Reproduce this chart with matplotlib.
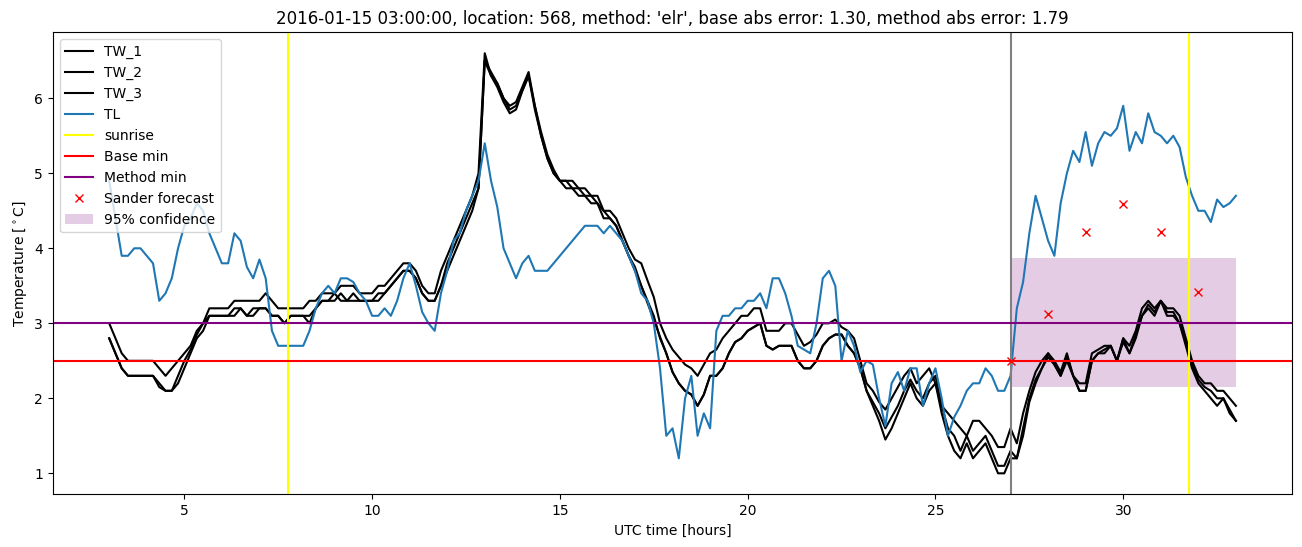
import numpy as np
import matplotlib
matplotlib.use('Agg')
import matplotlib.pyplot as plt

# time axis: 10-minute steps from 03:00 to 33:00 UTC (hours since start of day)
hours = np.arange(181) / 6 + 3

TW_1 = [
    3.0, 2.8, 2.6, 2.5, 2.5, 2.5, 2.5, 2.5, 2.4, 2.3, 2.4, 2.5, 2.6, 2.7, 2.9, 3.0, 3.2, 3.2, 3.2, 3.2, 3.3, 3.3, 3.3, 3.3, 3.3, 3.4, 3.3, 3.2, 3.2, 3.2, 3.2,
    3.2, 3.3, 3.3, 3.4, 3.4, 3.4, 3.5, 3.5, 3.5, 3.4, 3.4, 3.4, 3.5, 3.5, 3.6, 3.7, 3.8, 3.8, 3.7, 3.5, 3.4, 3.4, 3.7, 3.9, 4.1, 4.3, 4.5, 4.7, 5.0, 6.6,
    6.3, 6.2, 6.0, 5.9, 5.95, 6.15, 6.35, 5.9, 5.55, 5.25, 5.05, 4.9, 4.9, 4.9, 4.8, 4.8, 4.7, 4.7, 4.5, 4.5, 4.4, 4.2, 4.0, 3.85, 3.8, 3.57, 3.35, 3.0, 2.8, 2.65, 2.55,
    2.45, 2.4, 2.3, 2.45, 2.6, 2.65, 2.8, 2.9, 3.0, 3.1, 3.1, 3.2, 3.2, 2.9, 2.9, 2.9, 3.0, 3.0, 2.85, 2.7, 2.75, 2.85, 3.0, 3.0, 3.05, 2.95, 2.9, 2.8, 2.5, 2.2,
    2.1, 1.95, 1.85, 2.0, 2.15, 2.3, 2.4, 2.2, 2.3, 2.4, 2.2, 1.9, 1.8, 1.7, 1.6, 1.5, 1.7, 1.7, 1.6, 1.5, 1.35, 1.35, 1.6,
    1.4, 1.8, 2.1, 2.35, 2.5, 2.6, 2.5, 2.35, 2.6, 2.3, 2.2, 2.2, 2.6, 2.65, 2.7, 2.7, 2.5, 2.8, 2.7, 2.9, 3.2, 3.3, 3.2, 3.3, 3.2, 3.2, 3.1, 2.8, 2.5, 2.3, 2.2, 2.2, 2.1, 2.1, 2.0, 1.9,
]
TW_2 = [
    2.8, 2.6, 2.4, 2.3, 2.3, 2.3, 2.3, 2.3, 2.2, 2.1, 2.1, 2.3, 2.5, 2.65, 2.85, 3.0, 3.1, 3.1, 3.1, 3.1, 3.1, 3.2, 3.1, 3.1, 3.2, 3.2, 3.1, 3.1, 3.0, 3.1, 3.1,
    3.1, 3.0, 3.2, 3.3, 3.3, 3.3, 3.4, 3.3, 3.3, 3.3, 3.3, 3.3, 3.4, 3.4, 3.5, 3.6, 3.7, 3.7, 3.6, 3.4, 3.3, 3.3, 3.5, 3.8, 4.0, 4.2, 4.4, 4.6, 4.8, 6.5,
    6.3, 6.15, 5.95, 5.8, 5.85, 6.1, 6.3, 5.85, 5.5, 5.2, 5.0, 4.9, 4.8, 4.8, 4.7, 4.7, 4.6, 4.6, 4.4, 4.4, 4.3, 4.1, 3.9, 3.75, 3.5, 3.27, 3.05, 2.82, 2.6, 2.35, 2.2,
    2.1, 2.05, 1.9, 2.05, 2.3, 2.3, 2.4, 2.6, 2.75, 2.8, 2.9, 2.95, 3.0, 2.7, 2.65, 2.7, 2.7, 2.7, 2.5, 2.4, 2.4, 2.5, 2.7, 2.8, 2.85, 2.85, 2.7, 2.6, 2.4, 2.1,
    1.95, 1.8, 1.6, 1.75, 1.9, 2.1, 2.25, 2.1, 2.0, 2.2, 2.3, 1.9, 1.6, 1.5, 1.3, 1.5, 1.3, 1.4, 1.5, 1.3, 1.1, 1.1, 1.3,
    1.2, 1.6, 2.0, 2.25, 2.4, 2.6, 2.45, 2.3, 2.55, 2.3, 2.1, 2.1, 2.5, 2.6, 2.6, 2.7, 2.5, 2.8, 2.6, 2.8, 3.1, 3.2, 3.1, 3.3, 3.1, 3.1, 3.0, 2.7, 2.4, 2.2, 2.1, 2.0, 1.9, 2.0, 1.8, 1.7,
]
TW_3 = [
    2.8, 2.6, 2.4, 2.3, 2.3, 2.3, 2.3, 2.3, 2.15, 2.1, 2.1, 2.2, 2.4, 2.6, 2.8, 2.9, 3.1, 3.1, 3.1, 3.1, 3.2, 3.2, 3.1, 3.2, 3.2, 3.2, 3.1, 3.1, 3.0, 3.1, 3.1,
    3.1, 3.1, 3.2, 3.3, 3.3, 3.4, 3.3, 3.3, 3.4, 3.3, 3.3, 3.3, 3.3, 3.4, 3.5, 3.6, 3.7, 3.7, 3.6, 3.4, 3.3, 3.3, 3.5, 3.7, 3.9, 4.1, 4.3, 4.5, 4.8, 6.5,
    6.35, 6.2, 6.0, 5.85, 5.9, 6.1, 6.3, 5.9, 5.5, 5.2, 5.0, 4.9, 4.9, 4.8, 4.8, 4.7, 4.7, 4.6, 4.5, 4.4, 4.3, 4.1, 3.9, 3.7, 3.5, 3.3, 3.1, 2.8, 2.6, 2.35, 2.2,
    2.1, 2.05, 1.9, 2.05, 2.3, 2.3, 2.4, 2.6, 2.75, 2.8, 2.9, 2.95, 3.0, 2.7, 2.65, 2.7, 2.7, 2.7, 2.5, 2.4, 2.4, 2.5, 2.7, 2.8, 2.85, 2.85, 2.7, 2.6, 2.4, 2.1,
    1.9, 1.7, 1.45, 1.6, 1.8, 2.0, 2.2, 2.0, 1.9, 2.1, 2.2, 1.8, 1.5, 1.3, 1.2, 1.4, 1.2, 1.3, 1.4, 1.2, 1.0, 1.0, 1.2,
    1.2, 1.5, 1.95, 2.2, 2.4, 2.55, 2.45, 2.3, 2.5, 2.3, 2.1, 2.1, 2.5, 2.6, 2.65, 2.7, 2.5, 2.75, 2.6, 2.85, 3.1, 3.25, 3.15, 3.3, 3.15, 3.15, 3.0, 2.75, 2.45, 2.25, 2.15, 2.1, 2.0, 2.0, 1.85, 1.7,
]
TL = [
    4.9, 4.4, 3.9, 3.9, 4.0, 4.0, 3.9, 3.8, 3.3, 3.4, 3.6, 4.0, 4.3, 4.4, 4.6, 4.5, 4.2, 4.0, 3.8, 3.8, 4.2, 4.1, 3.75, 3.6, 3.85, 3.6, 2.9, 2.7, 2.7, 2.7, 2.7,
    2.7, 2.9, 3.2, 3.4, 3.5, 3.4, 3.6, 3.6, 3.55, 3.4, 3.3, 3.1, 3.1, 3.2, 3.1, 3.3, 3.6, 3.8, 3.5, 3.15, 3.0, 2.9, 3.4, 3.7, 4.1, 4.2, 4.5, 4.7, 4.9, 5.4,
    4.9, 4.55, 4.0, 3.8, 3.6, 3.8, 3.9, 3.7, 3.7, 3.7, 3.8, 3.9, 4.0, 4.1, 4.2, 4.3, 4.3, 4.3, 4.2, 4.3, 4.2, 4.1, 3.9, 3.7, 3.4, 3.3, 3.0, 2.4, 1.5, 1.6, 1.2,
    2.0, 2.3, 1.5, 1.8, 1.6, 2.9, 3.1, 3.1, 3.2, 3.2, 3.3, 3.3, 3.4, 3.2, 3.6, 3.6, 3.4, 3.1, 2.7, 2.65, 2.6, 3.0, 3.6, 3.7, 3.5, 2.5, 2.9, 2.7, 2.35, 2.5,
    2.45, 2.0, 1.63, 2.2, 2.35, 2.1, 2.4, 2.4, 1.9, 2.2, 2.4, 2.0, 1.5, 1.75, 1.9, 2.1, 2.2, 2.2, 2.4, 2.3, 2.1, 2.1, 2.3,
    3.2, 3.55, 4.2, 4.7, 4.4,
    4.1, 3.9, 4.6, 5.0, 5.3, 5.15, 5.55, 5.1, 5.4, 5.55, 5.5, 5.6, 5.9, 5.3, 5.55, 5.4, 5.8, 5.55, 5.5, 5.4, 5.5, 5.35, 4.95, 4.7, 4.5, 4.5, 4.35, 4.65, 4.55, 4.6, 4.7,
]

sunrise_hours = [7.76, 31.74]
forecast_start = 27.0
base_min = 2.5
method_min = 3.0
forecast_hours = [27, 28, 29, 30, 31, 32]
forecast_values = [2.5, 3.13, 4.22, 4.59, 4.22, 3.42]
conf_hours = [27, 33]
conf_low = 2.15
conf_high = 3.87

for name, s in [('TW_1', TW_1), ('TW_2', TW_2), ('TW_3', TW_3), ('TL', TL)]:
    assert len(s) == len(hours), (name, len(s))

fig = plt.figure(figsize=(13.02, 5.47), dpi=100)
ax = fig.add_axes([0.0406, 0.0963, 0.9519, 0.8447])

ax.plot(hours, TW_1, color='black', label='TW_1')
ax.plot(hours, TW_2, color='black', label='TW_2')
ax.plot(hours, TW_3, color='black', label='TW_3')
ax.plot(hours, TL, color='C0', label='TL')
ax.axvline(sunrise_hours[0], color='yellow', label='sunrise')
ax.axvline(sunrise_hours[1], color='yellow')
ax.axvline(forecast_start, color='grey')
ax.axhline(base_min, color='red', label='Base min')
ax.axhline(method_min, color='purple', label='Method min')
ax.plot(forecast_hours, forecast_values, 'x', color='red', label='Sander forecast')
ax.fill_between(conf_hours, [conf_low] * 2, [conf_high] * 2, color='purple',
                alpha=0.2, linewidth=0, label='95% confidence')

ax.set_title("2016-01-15 03:00:00, location: 568, method: 'elr', "
             "base abs error: 1.30, method abs error: 1.79")
ax.set_xlabel('UTC time [hours]')
ax.set_ylabel(r'Temperature [$^\circ$C]')
ax.legend(loc='upper left')

fig.savefig('out.png', dpi=100)
